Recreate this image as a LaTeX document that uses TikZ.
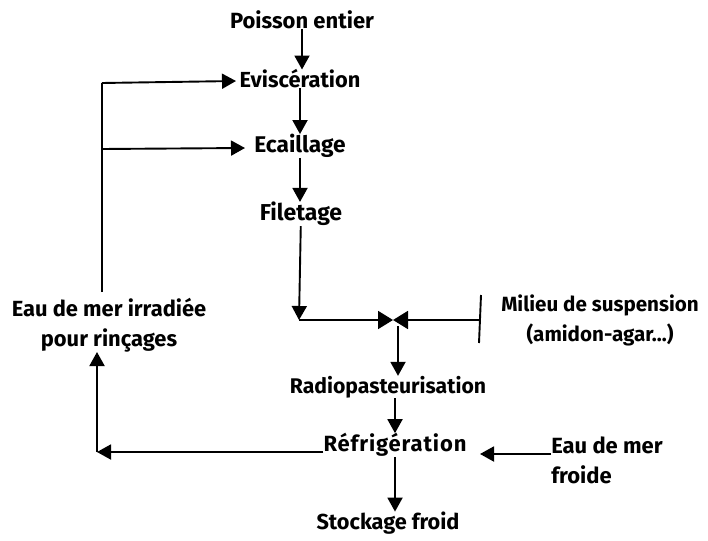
\documentclass[tikz,border=0pt]{standalone}
\usepackage{fontspec}
\setmainfont{Fira Sans}
\usetikzlibrary{arrows.meta}
\tikzset{
  lbl/.style={inner sep=0pt, font=\fontsize{#1}{30}\selectfont\bfseries},
  lbl/.default={22},
  flow/.style={line width=1.9pt, -{Triangle[length=14pt,width=15pt]}},
  bowtip/.style={line width=1.9pt, -{Triangle[length=15pt,width=18pt]}},
  plain/.style={line width=1.9pt}
}
\begin{document}
\begin{tikzpicture}[x=1pt,y=-1pt]
\useasboundingbox (0,0) rectangle (708,540);
\node[lbl=22] (poisson) at (302,20) {Poisson entier};
\node[lbl=21.8] (evisc) at (300,79) {Eviscération};
\node[lbl=22.7] (ecail) at (300,146) {Ecaillage};
\node[lbl=23] (filet) at (301,214) {Filetage};
\node[lbl=20.6,align=center] (milieu) at (600,320) {Milieu de suspension\\(amidon-agar...)};
\node[lbl=21.2] (radio) at (388,387) {Radiopasteurisation};
\node[lbl=22] (refrig) at (395,445) {\addfontfeature{LetterSpace=4}Réfrigération};
\node[lbl=22,align=left] (froide) at (607,460) {Eau de mer\\froide};
\node[lbl=21.7] (stock) at (388,523) {Stockage froid};
\node[lbl=21.9,align=center] (eau) at (109,325) {Eau de mer irradiée\\pour rinçages};
\coordinate (c1) at (102,83);
\coordinate (c2) at (102,149);
\coordinate (c3) at (102,292);
\coordinate (j) at (299,320);
\coordinate (bow) at (393,320);
\coordinate (bowb) at (398,326);
\coordinate (bar) at (480,320);
\coordinate (bart) at (481,295);
\coordinate (barb) at (479,343);
\coordinate (c4) at (97,452);
\coordinate (c5) at (97,352);
\coordinate (tipf) at (480,454);
\coordinate (tipe) at (236,81);
\coordinate (tipc) at (245,148);
\draw[flow] (poisson) -- (poisson |- evisc.north);
\draw[flow] (evisc) -- (evisc |- ecail.north);
\draw[flow] (ecail) -- (ecail |- filet.north);
\draw[flow] (filet) -- (j);
\draw[plain] (c3) -- (c1);
\draw[flow] (c1) -- (tipe);
\draw[flow] (c2) -- (tipc);
\draw[bowtip] (j) -- (bow);
\draw[bowtip] (bar) -- (bow);
\draw[plain] (bart) -- (barb);
\draw[flow] (bowb) -- (bowb |- radio.north);
\draw[flow] (radio.south -| refrig.north) -- (refrig.north);
\draw[flow] (refrig.south) -- (stock.north -| refrig.south);
\draw[flow] (froide.west |- tipf) -- (tipf);
\draw[flow] (refrig.west |- c4) -- (c4);
\draw[flow] (c4) -- (c5);
\end{tikzpicture}
\end{document}
